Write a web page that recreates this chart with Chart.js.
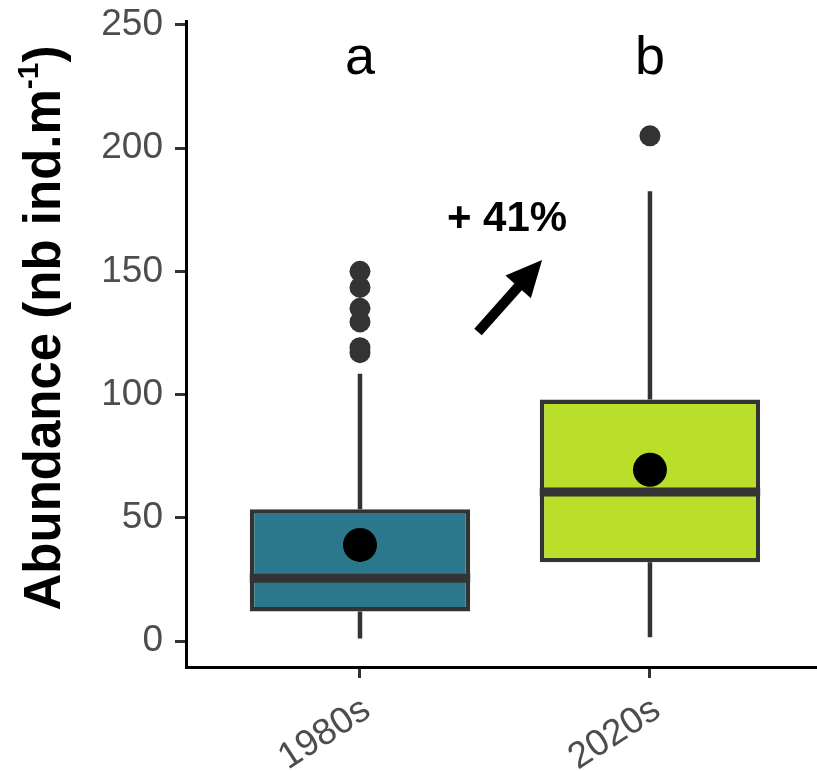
<!DOCTYPE html>
<html>
<head>
<meta charset="utf-8">
<script src="https://cdn.jsdelivr.net/npm/chart.js@4"></script>
<style>
  html, body { margin: 0; padding: 0; background: #fff; }
  #wrap { width: 817px; height: 771px; }
</style>
</head>
<body>
<div id="wrap"><canvas id="boxChart" width="817" height="771"></canvas></div>
<script>
// values
const categories = ['1980s', '2020s'];
const xPos = [1, 2];
const q1 = [12, 32];
const medians = [25.5, 60.5];
const q3 = [53.5, 98];
const whiskerLow = [1, 1.5];
const whiskerHigh = [108.5, 182.5];
const means = [39, 69.5];
const outliers1980s = [150, 143.5, 135, 129.5, 119, 117];
const outliers2020s = [205];
const yTicks = [0, 50, 100, 150, 200, 250];
const groupLetters = ['a', 'b'];
const letterY = 236;
const changeLabel = '+ 41%';
const changeLabelPos = [1.507, 171];
const arrowFrom = [1.407, 125.4];
const arrowTo = [1.628, 154.6];

const boxColors = ['#2B788C', '#BADF2A'];
const lineColor = '#333333';
const fontFamily = '"Liberation Sans", Arial, sans-serif';

// whiskers behind the boxes, medians on top of them
const boxPlugin = {
    id: 'boxParts',
    beforeDatasetsDraw(chart) {
        const xs = chart.scales.x, ys = chart.scales.y;
        const c = chart.ctx;
        c.save();
        c.strokeStyle = lineColor;
        c.lineWidth = 4.5;
        xPos.forEach((x, i) => {
            const px = xs.getPixelForValue(x);
            c.beginPath();
            c.moveTo(px, ys.getPixelForValue(whiskerLow[i]));
            c.lineTo(px, ys.getPixelForValue(q1[i]));
            c.moveTo(px, ys.getPixelForValue(q3[i]));
            c.lineTo(px, ys.getPixelForValue(whiskerHigh[i]));
            c.stroke();
        });
        c.restore();
    },
    afterDatasetDraw(chart, args) {
        if (args.index !== 0) return;
        const xs = chart.scales.x, ys = chart.scales.y;
        const c = chart.ctx;
        const bars = chart.getDatasetMeta(0).data;
        c.save();
        c.strokeStyle = lineColor;
        c.lineWidth = 9;
        xPos.forEach((x, i) => {
            const half = bars[i].width / 2;
            const px = xs.getPixelForValue(x);
            const py = ys.getPixelForValue(medians[i]);
            c.beginPath();
            c.moveTo(px - half, py);
            c.lineTo(px + half, py);
            c.stroke();
        });
        c.restore();
    },
    afterDraw(chart) {
        const xs = chart.scales.x, ys = chart.scales.y;
        const c = chart.ctx;
        c.save();
        // group letters
        c.fillStyle = '#000';
        c.font = '54px ' + fontFamily;
        c.textAlign = 'center';
        c.textBaseline = 'middle';
        xPos.forEach((x, i) => {
            c.fillText(groupLetters[i], xs.getPixelForValue(x), ys.getPixelForValue(letterY));
        });
        // + 41%
        c.font = 'bold 42px ' + fontFamily;
        c.fillText(changeLabel, xs.getPixelForValue(changeLabelPos[0]), ys.getPixelForValue(changeLabelPos[1]));
        // arrow
        const x0 = xs.getPixelForValue(arrowFrom[0]), y0 = ys.getPixelForValue(arrowFrom[1]);
        const x1 = xs.getPixelForValue(arrowTo[0]), y1 = ys.getPixelForValue(arrowTo[1]);
        const ang = Math.atan2(y1 - y0, x1 - x0);
        const headLen = 36, headHalf = 17;
        const bx = x1 - headLen * Math.cos(ang), by = y1 - headLen * Math.sin(ang);
        c.strokeStyle = '#000';
        c.lineWidth = 10;
        c.beginPath();
        c.moveTo(x0, y0);
        c.lineTo(bx + 2 * Math.cos(ang), by + 2 * Math.sin(ang));
        c.stroke();
        c.beginPath();
        c.moveTo(x1, y1);
        c.lineTo(bx + headHalf * Math.sin(ang), by - headHalf * Math.cos(ang));
        c.lineTo(bx - headHalf * Math.sin(ang), by + headHalf * Math.cos(ang));
        c.closePath();
        c.fill();
        // y axis title with superscript
        const area = chart.chartArea;
        const cy = (area.top + area.bottom) / 2 - 16;
        c.translate(46, cy);
        c.rotate(-Math.PI / 2);
        c.textAlign = 'left';
        c.textBaseline = 'middle';
        const bigFont = 'bold 51px ' + fontFamily;
        const supFont = 'bold 30px ' + fontFamily;
        const p1 = 'Abundance (nb ind.m', sup = '-1', p2 = ')';
        c.font = bigFont;
        const w1 = c.measureText(p1).width, w3 = c.measureText(p2).width;
        c.font = supFont;
        const w2 = c.measureText(sup).width;
        const sx = -(w1 + w2 + w3) / 2;
        c.font = bigFont;
        c.fillText(p1, sx, 0);
        c.font = supFont;
        c.fillText(sup, sx + w1, -16);
        c.font = bigFont;
        c.fillText(p2, sx + w1 + w2, 0);
        c.restore();
    }
};

const ctx = document.getElementById('boxChart').getContext('2d');
const chart = new Chart(ctx, {
    type: 'bar',
    data: {
        datasets: [
            {
                type: 'bar',
                label: 'box',
                data: xPos.map((x, i) => ({ x: x, y: [q1[i], q3[i]] })),
                backgroundColor: boxColors,
                borderColor: lineColor,
                borderWidth: 4.5,
                borderSkipped: false,
                barPercentage: 0.76,
                categoryPercentage: 1,
                order: 3
            },
            {
                type: 'scatter',
                label: 'outliers',
                data: outliers1980s.map(v => ({ x: xPos[0], y: v }))
                    .concat(outliers2020s.map(v => ({ x: xPos[1], y: v }))),
                backgroundColor: lineColor,
                borderWidth: 0,
                pointRadius: 10.5,
                order: 2
            },
            {
                type: 'scatter',
                label: 'mean',
                data: xPos.map((x, i) => ({ x: x, y: means[i] })),
                backgroundColor: '#000',
                borderWidth: 0,
                pointRadius: 17,
                order: 1
            }
        ]
    },
    options: {
        responsive: false,
        animation: false,
        layout: { autoPadding: false, padding: { top: 21, right: 0, bottom: 0, left: 0 } },
        plugins: {
            legend: { display: false },
            tooltip: { enabled: false }
        },
        scales: {
            x: {
                type: 'linear',
                min: 0.4,
                max: 2.576,
                offset: false,
                afterBuildTicks: scale => { scale.ticks = xPos.map(v => ({ value: v })); },
                afterFit: scale => {
                    scale.height = 104;
                    scale.paddingLeft = 0;
                    scale.paddingRight = 0;
                },
                ticks: {
                    callback: v => categories[xPos.indexOf(v)],
                    color: '#4D4D4D',
                    font: { family: fontFamily, size: 37 },
                    minRotation: 33,
                    maxRotation: 33,
                    labelOffset: 7,
                    padding: 10
                },
                grid: {
                    offset: false,
                    drawOnChartArea: false,
                    drawTicks: true,
                    tickLength: 11,
                    tickWidth: 3,
                    tickColor: lineColor
                },
                border: { display: true, color: '#000', width: 3 }
            },
            y: {
                type: 'linear',
                min: -10.55,
                max: 251.6,
                afterBuildTicks: scale => { scale.ticks = yTicks.map(v => ({ value: v })); },
                afterFit: scale => {
                    scale.width = 186;
                    scale.paddingTop = 0;
                    scale.paddingBottom = 0;
                },
                ticks: {
                    color: '#4D4D4D',
                    font: { family: fontFamily, size: 37 },
                    padding: 12
                },
                grid: {
                    drawOnChartArea: false,
                    drawTicks: true,
                    tickLength: 11,
                    tickWidth: 3,
                    tickColor: lineColor
                },
                border: { display: true, color: '#000', width: 3 }
            }
        }
    },
    plugins: [boxPlugin]
});
</script>
</body>
</html>
